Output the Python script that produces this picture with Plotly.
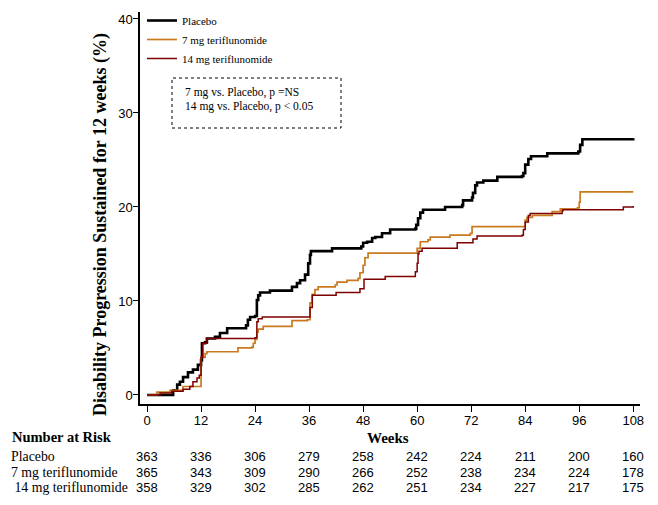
import plotly.graph_objects as go

# ---------------- data ----------------
placebo_weeks = [0, 5.8, 6.7, 7.3, 8.0, 9.1, 10.2, 11.3, 12.0, 12.2, 12.9, 13.3, 15.1, 16.2, 17.8,
                 22.0, 22.4, 22.9, 24.0, 24.4, 24.7, 25.1, 27.3, 32.2, 33.3, 34.0, 35.1, 35.8, 36.2,
                 36.4, 41.1, 47.6, 48.0, 48.9, 50.0, 50.7, 52.2, 54.0, 59.6, 59.8, 60.2, 60.7, 61.3,
                 66.2, 70.0, 70.2, 72.2, 72.4, 72.9, 73.3, 74.7, 77.8, 83.3, 83.6, 84.0, 84.7, 85.3,
                 88.9, 95.8, 96.2, 96.7, 108]
placebo_pct = [0, 0.5, 1.1, 1.4, 1.9, 2.4, 2.7, 3.2, 3.7, 5.5, 5.6, 6.0, 6.2, 6.6, 7.1,
               7.4, 8.0, 8.3, 8.4, 10.1, 10.6, 10.9, 11.1, 11.5, 11.9, 12.2, 12.8, 14.0, 14.9,
               15.3, 15.6, 15.8, 16.2, 16.3, 16.7, 16.8, 17.2, 17.6, 17.7, 18.1, 18.8, 19.4, 19.7,
               20.0, 20.2, 20.7, 21.0, 21.5, 22.3, 22.6, 22.8, 23.2, 23.3, 23.6, 24.5, 25.1, 25.4,
               25.7, 25.9, 26.6, 27.2, 27.3]

teri7_weeks = [0, 2.2, 5.1, 8.0, 12.0, 12.9, 13.3, 20.2, 23.3, 23.6, 24.0, 24.4, 24.7, 25.8, 32.2,
               35.6, 36.2, 36.7, 37.3, 38.0, 41.8, 42.2, 44.4, 46.9, 47.3, 48.0, 48.4, 49.1, 60.0,
               60.7, 62.4, 62.9, 67.3, 71.8, 72.2, 84.0, 84.4, 85.6, 90.0, 91.8, 95.6, 96.0, 96.2, 108]
teri7_pct = [0, 0.3, 0.5, 0.9, 4.0, 4.4, 4.6, 5.0, 5.1, 5.5, 5.9, 6.7, 7.0, 7.3, 7.9,
             8.0, 9.8, 10.7, 11.2, 11.5, 11.7, 12.0, 12.2, 12.4, 13.0, 13.8, 14.6, 15.1, 15.6,
             16.3, 16.5, 16.8, 17.0, 17.2, 17.9, 18.6, 18.9, 19.1, 19.5, 19.8, 19.9, 20.5, 21.6, 21.6]

teri14_weeks = [0, 2.9, 5.5, 8.0, 9.5, 10.2, 11.1, 11.6, 12.0, 12.4, 13.3, 24.0, 24.4, 24.7, 25.6,
                36.2, 36.7, 42.0, 47.3, 48.2, 52.9, 59.6, 60.0, 60.2, 60.4, 61.1, 68.9, 72.4, 73.3,
                83.3, 83.6, 84.0, 84.7, 85.1, 92.2, 92.4, 105.8, 108]
teri14_pct = [0, 0.2, 0.4, 0.6, 0.9, 1.4, 1.8, 2.1, 4.0, 5.5, 6.0, 6.1, 7.8, 8.1, 8.3,
              9.3, 10.6, 10.9, 11.3, 12.3, 12.6, 13.1, 14.0, 15.0, 15.3, 15.6, 16.2, 16.6, 16.9,
              17.0, 17.6, 18.4, 19.1, 19.3, 19.6, 19.7, 20.0, 20.1]

tick_weeks = [0, 12, 24, 36, 48, 60, 72, 84, 96, 108]
y_ticks = [0, 10, 20, 30, 40]

risk_labels = ["Placebo", "7 mg teriflunomide", " 14 mg teriflunomide"]
risk_placebo = [363, 336, 306, 279, 258, 242, 224, 211, 200, 160]
risk_7mg = [365, 343, 309, 290, 266, 252, 238, 234, 224, 178]
risk_14mg = [358, 329, 302, 285, 262, 251, 234, 227, 217, 175]

legend_names = ["Placebo", "7 mg teriflunomide", "14 mg teriflunomide"]
pvalue_lines = ["7 mg vs. Placebo, p =NS", "14 mg vs. Placebo, p < 0.05"]

# ---------------- style ----------------
SERIF = "Liberation Serif, Times New Roman, serif"
NUMF = "Liberation Sans Narrow, Arial Narrow, Liberation Sans, Arial, sans-serif"
C_PLA = "#000000"
C_7 = "#C97A1E"
C_14 = "#7F0000"

# the page body has an 8px margin; figure is sized so it fits the 658x505 window
OFF = 8
W, H = 658 - 2 * OFF, 505 - 2 * OFF
PL, PR, PT, PB = 140, 640, 12, 404          # plot area in page pixels
L, T = PL - OFF, PT - OFF
R = W - (PR - OFF)
B = H - (PB - OFF)
pw, ph = PR - PL, PB - PT


def px_x(px):
    return (px - PL) / pw


def px_y(py):
    return (PB - py) / ph


fig = go.Figure()
fig.add_trace(go.Scatter(x=placebo_weeks, y=placebo_pct, mode="lines", name=legend_names[0],
                         line=dict(color=C_PLA, width=2.6, shape="hv")))
fig.add_trace(go.Scatter(x=teri7_weeks, y=teri7_pct, mode="lines", name=legend_names[1],
                         line=dict(color=C_7, width=1.7, shape="hv")))
fig.add_trace(go.Scatter(x=teri14_weeks, y=teri14_pct, mode="lines", name=legend_names[2],
                         line=dict(color=C_14, width=1.5, shape="hv")))

fig.update_layout(
    width=W, height=H,
    margin=dict(l=L, r=R, t=T, b=B, pad=0, autoexpand=False),
    paper_bgcolor="white", plot_bgcolor="white",
    showlegend=True,
    legend=dict(x=px_x(142), y=px_y(6), xanchor="left", yanchor="top", bgcolor="rgba(0,0,0,0)",
                font=dict(family=SERIF, size=11, color="black"), tracegroupgap=0,
                itemwidth=30),
    xaxis=dict(range=[-1.56, 109.5], tickvals=tick_weeks, ticktext=[str(t) for t in tick_weeks],
               showgrid=False, zeroline=False, showline=True, linecolor="black", linewidth=1.5,
               ticks="outside", ticklen=6, tickwidth=1.2, tickcolor="black", automargin=False,
               ticklabelstandoff=-2,
               tickfont=dict(family=NUMF, size=13, color="black")),
    yaxis=dict(range=[-0.96, 40.74], tickvals=y_ticks, showgrid=False, zeroline=False,
               showline=True, linecolor="black", linewidth=1.5, automargin=False,
               ticks="outside", ticklen=5, tickwidth=1.2, tickcolor="black",
               ticklabelstandoff=-2,
               tickfont=dict(family=NUMF, size=13, color="black")),
)

# dotted p-value box
fig.add_shape(type="rect", xref="paper", yref="paper",
              x0=px_x(172), x1=px_x(341), y0=px_y(128), y1=px_y(78),
              line=dict(color="black", width=1, dash="dot"))
for i, txt in enumerate(pvalue_lines):
    fig.add_annotation(xref="paper", yref="paper", x=px_x(183), y=px_y(92 + 15 * i),
                       xanchor="left", yanchor="middle", showarrow=False, text=txt,
                       font=dict(family=SERIF, size=11.5, color="black"))

# y-axis title
fig.add_annotation(xref="paper", yref="paper", x=px_x(100), y=px_y(225), textangle=-90,
                   showarrow=False, xanchor="center", yanchor="middle",
                   text="<b>Disability Progression Sustained for 12 weeks (%)</b>",
                   font=dict(family=SERIF, size=18, color="black"))

# x-axis title
fig.add_annotation(xref="paper", yref="paper", x=px_x(388), y=px_y(438), showarrow=False,
                   xanchor="center", yanchor="middle",
                   text="<b>Weeks</b>", font=dict(family=SERIF, size=15, color="black"))

# number at risk table
fig.add_annotation(xref="paper", yref="paper", x=px_x(10), y=px_y(437), xanchor="left",
                   yanchor="middle", showarrow=False, text="<b>Number at Risk</b>",
                   font=dict(family=SERIF, size=14.5, color="black"))
rows = [risk_placebo, risk_7mg, risk_14mg]
for r, (lab, vals) in enumerate(zip(risk_labels, rows)):
    ypos = px_y(457 + 15 * r)
    fig.add_annotation(xref="paper", yref="paper", x=px_x(10), y=ypos, xanchor="left",
                       yanchor="middle", showarrow=False, borderpad=0,
                       text=lab.replace(" ", "&nbsp;", 1) if lab.startswith(" ") else lab,
                       font=dict(family=SERIF, size=13.8, color="black"))
    for wk, v in zip(tick_weeks, vals):
        fig.add_annotation(xref="x", yref="paper", x=wk, y=ypos, xanchor="center",
                           yanchor="middle", showarrow=False, borderpad=0, text=str(v),
                           font=dict(family=NUMF, size=13, color="black"))

fig.write_html("out.html")
